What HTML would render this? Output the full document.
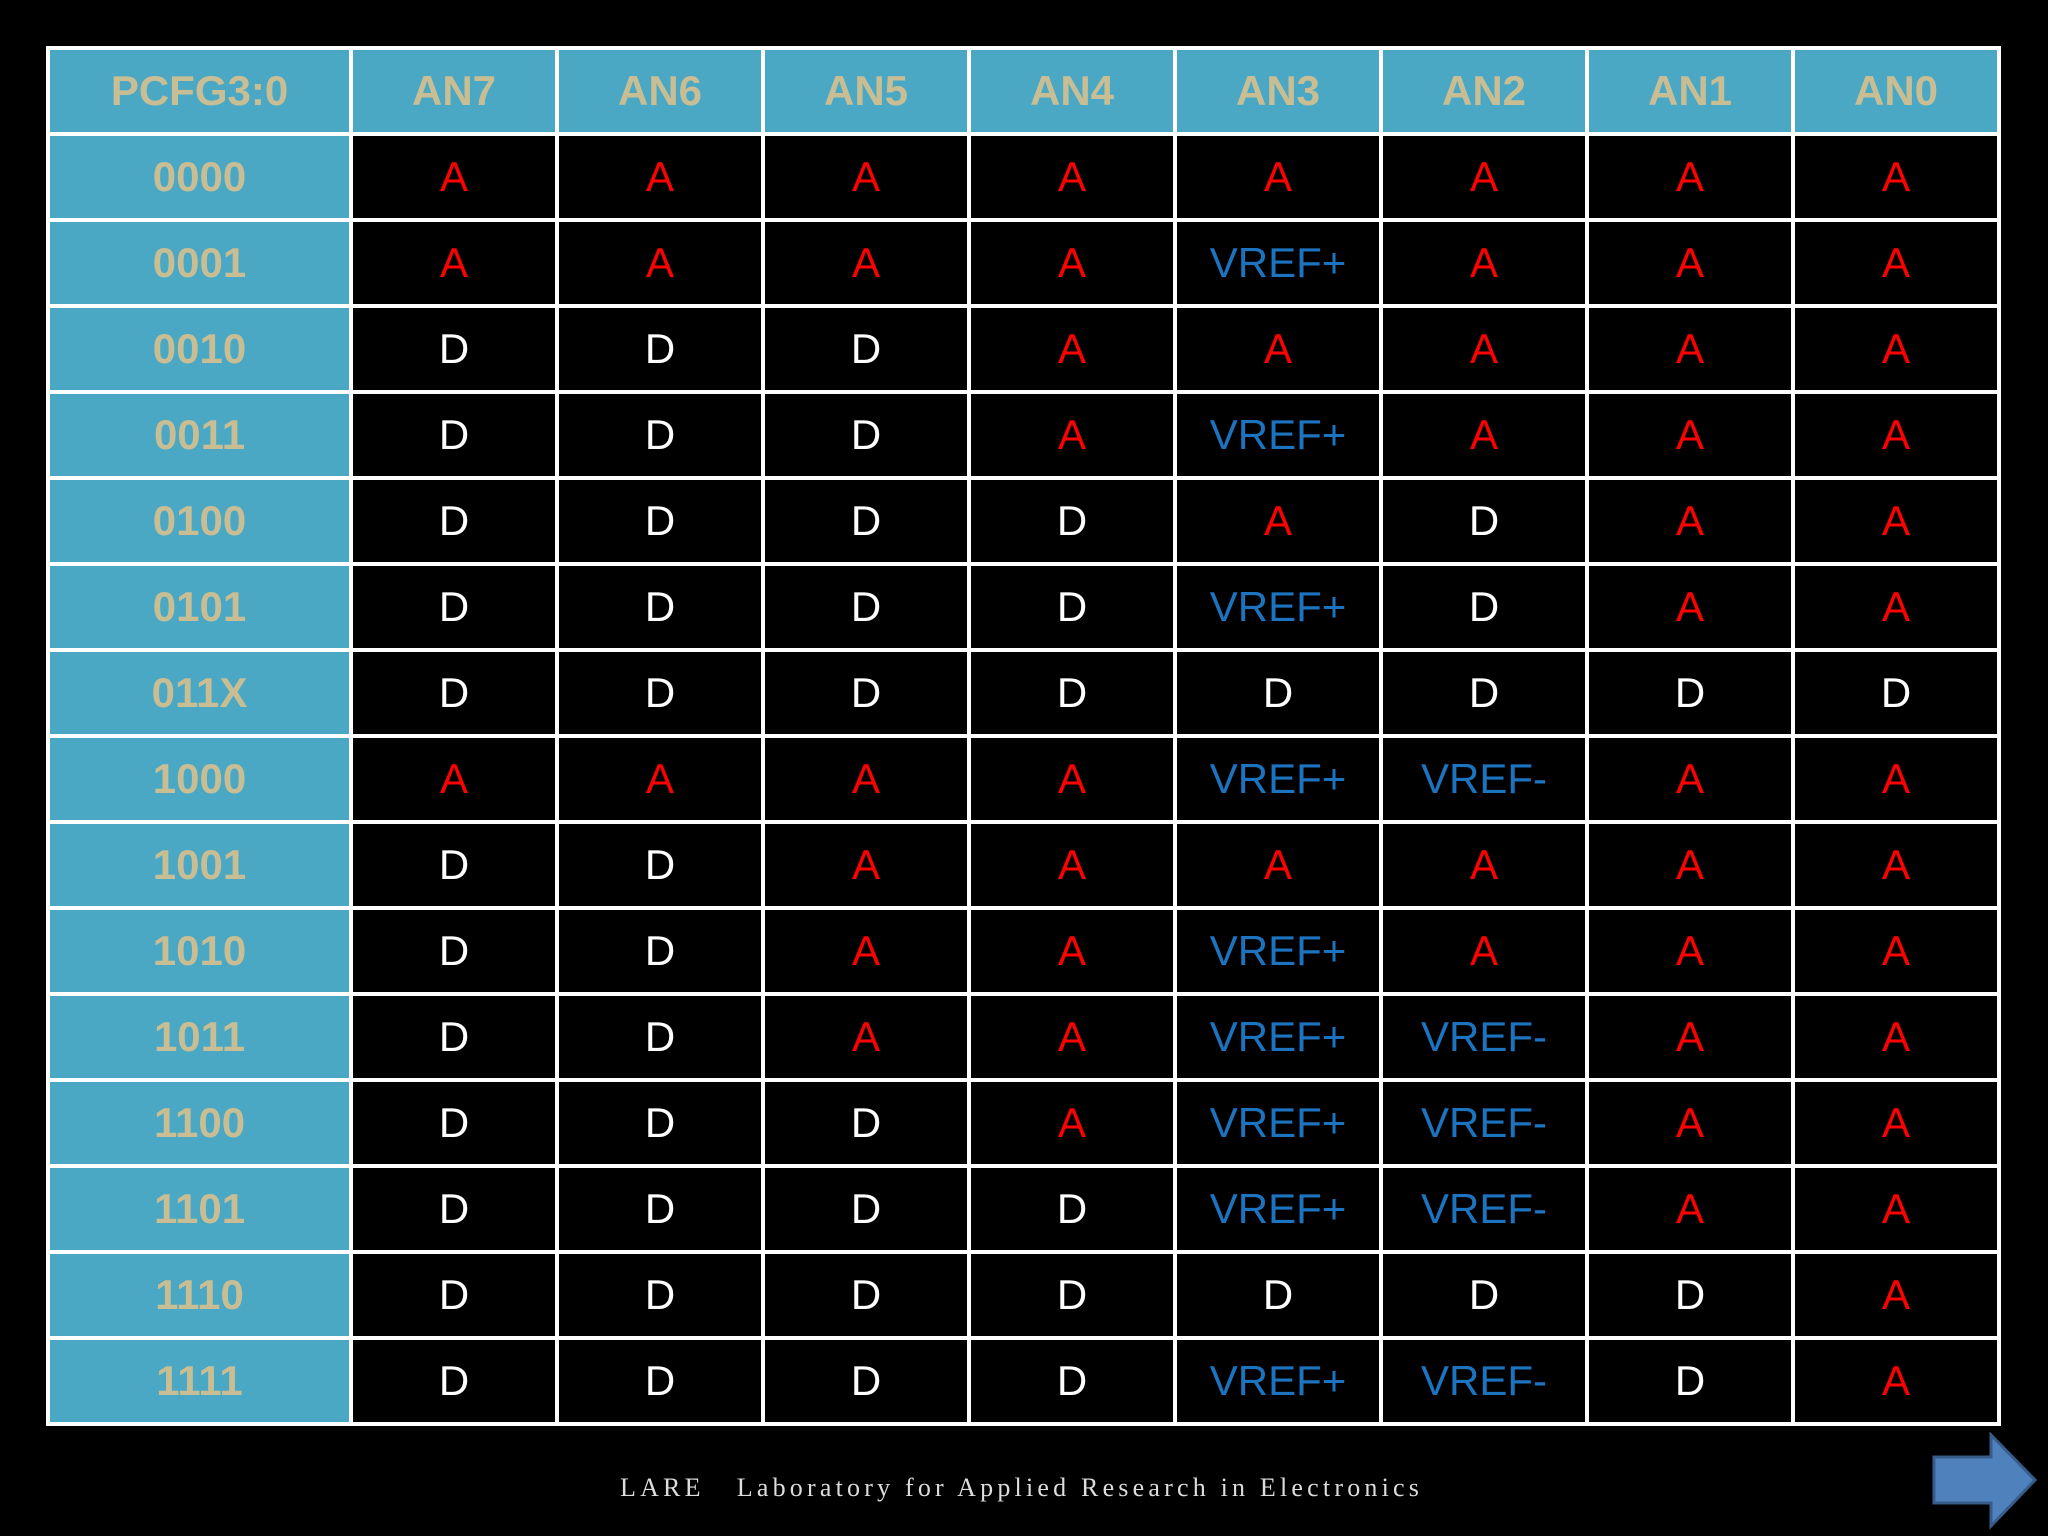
<!DOCTYPE html>
<html><head><meta charset="utf-8"><style>
html,body{margin:0;padding:0;background:#000;width:2048px;height:1536px;overflow:hidden;}
table{position:absolute;left:46px;top:46px;width:1955px;border-collapse:collapse;table-layout:fixed;font-family:"Liberation Sans",sans-serif;}
td,th{border:4px solid #fff;text-align:center;vertical-align:middle;font-size:42px;padding:0;height:86px;line-height:48px;box-sizing:border-box;}
th{background:#4BA8C4;color:#C9BE93;font-weight:bold;}
td.k{background:#4BA8C4;color:#C9BE93;font-weight:bold;}
td{background:#000;color:#fff;}
.A{color:#FF0000}.V{color:#1C74C0}.D{color:#fff}
#footer{position:absolute;top:1473px;left:620px;font-family:"Liberation Serif",serif;font-size:26px;color:#ddd;letter-spacing:4.2px;white-space:pre;}
</style></head><body>
<table><colgroup><col style="width:303px"><col span="8"></colgroup>
<thead><tr><th>PCFG3:0</th><th>AN7</th><th>AN6</th><th>AN5</th><th>AN4</th><th>AN3</th><th>AN2</th><th>AN1</th><th>AN0</th></tr></thead>
<tbody id="tb"></tbody></table>
<div id="footer">LARE   Laboratory for Applied Research in Electronics</div>
<svg style="position:absolute;left:0;top:0" width="2048" height="1536">
<polygon points="1934,1457 1991,1457 1991,1435 2035,1480 1991,1526 1991,1503 1934,1503" fill="#4F81BD" stroke="#385D8A" stroke-width="3"/>
</svg>
<script>
const codes=["0000","0001","0010","0011","0100","0101","011X","1000","1001","1010","1011","1100","1101","1110","1111"];
const rows=[
"AAAAAAAA","AAAAVAAA","DDDAAAAA","DDDAVAAA","DDDDADAA","DDDDVDAA","DDDDDDDD","AAAAVMAA","DDAAAAAA","DDAAVAAA","DDAAVMAA","DDDAVMAA","DDDDVMAA","DDDDDDDA","DDDDVMDA"];
const tb=document.getElementById('tb');
codes.forEach((c,i)=>{
 const tr=document.createElement('tr');
 
 
 let h='<td class="k">'+c+'</td>';
 for(const ch of rows[i]){
  if(ch==='A')h+='<td class="A">A</td>';
  else if(ch==='D')h+='<td class="D">D</td>';
  else if(ch==='V')h+='<td class="V">VREF+</td>';
  else h+='<td class="V">VREF-</td>';
 }
 tr.innerHTML=h;tb.appendChild(tr);
});
</script>
</body></html>
